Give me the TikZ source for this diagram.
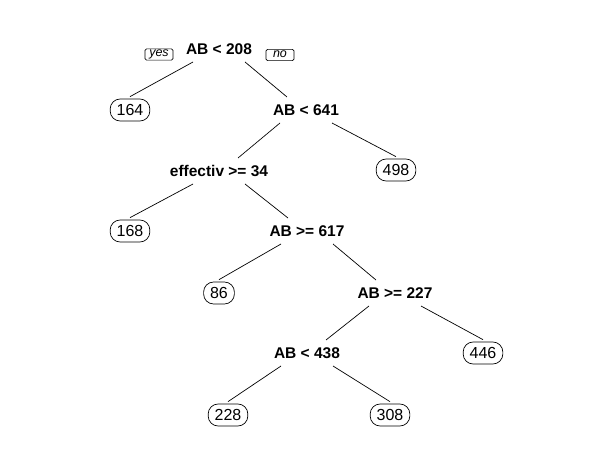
\documentclass[tikz,border=0pt]{standalone}
\usepackage{fontspec}
\setmainfont{Liberation Sans}
\begin{document}
\begin{tikzpicture}[x=1pt, y=1pt,
	split/.style={font=\fontsize{15.5}{18}\selectfont\bfseries, inner sep=0pt},
	leaf/.style={draw, line width=0.7pt, rounded corners=10pt, font=\fontsize{16}{19}\selectfont,
		inner xsep=6.5pt, inner ysep=0pt, minimum height=22pt, text height=11.4pt, text depth=0pt},
	answer/.style={draw, line width=0.6pt, rounded corners=1.5pt, font=\fontsize{12.5}{15}\itshape,
		inner sep=1pt, minimum width=28pt, text height=6.8pt, text depth=2.4pt},
	branch/.style={line width=0.7pt}]
	\useasboundingbox (0, 0) rectangle (614, 461);
	% split labels
	\node[split] (r) at (219, 412) {AB < 208};
	\node[split] (n2) at (306, 351) {AB < 641};
	\node[split] (n3) at (219, 290) {effectiv >= 34};
	\node[split] (n4) at (307, 230) {AB >= 617};
	\node[split] (n5) at (395, 168) {AB >= 227};
	\node[split] (n6) at (307, 108) {AB < 438};
	% yes / no
	\node[answer] (yes) at (159, 406.5) {yes};
	\node[answer] (no) at (280, 406) {no};
	% leaves
	\node[leaf] (l1) at (130, 351) {164};
	\node[leaf] (l2) at (396, 291) {498};
	\node[leaf] (l3) at (130, 230) {168};
	\node[leaf] (l4) at (219, 168) {86};
	\node[leaf] (l5) at (483, 108) {446};
	\node[leaf] (l6) at (228, 46) {228};
	\node[leaf] (l7) at (390, 46) {308};
	% branches
	\foreach \p/\c in {r/l1, n3/l3, n4/l4, n6/l6}
		\draw[branch] ([shift={(-26, -13)}]\p.center)--([shift={(0, 2)}]\c.north);
	\foreach \p/\c in {n2/l2, n5/l5, n6/l7}
		\draw[branch] ([shift={(26, -13)}]\p.center)--([shift={(0, 2)}]\c.north);
	\foreach \p/\c in {n2/n3, n5/n6}
		\draw[branch] ([shift={(-26, -13)}]\p.center)--([shift={(19, 13)}]\c.center);
	\foreach \p/\c in {r/n2, n3/n4, n4/n5}
		\draw[branch] ([shift={(26, -13)}]\p.center)--([shift={(-19, 13)}]\c.center);
\end{tikzpicture}
\end{document}
